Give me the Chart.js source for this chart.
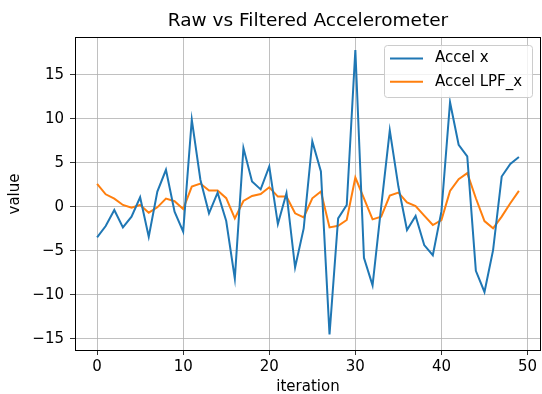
<!DOCTYPE html>
<html><head><meta charset="utf-8">
<script src="https://cdn.jsdelivr.net/npm/chart.js@4.4.0/dist/chart.umd.min.js"></script>
<style>html,body{margin:0;padding:0;background:#fff}</style>
</head><body><canvas id="c" width="542" height="394"></canvas>
<script>
const iterations = [0,1,2,3,4,5,6,7,8,9,10,11,12,13,14,15,16,17,18,19,20,21,22,23,24,25,26,27,28,29,30,31,32,33,34,35,36,37,38,39,40,41,42,43,44,45,46,47,48,49];
const accelX = [-3.46,-2.17,-0.34,-2.32,-1.1,1.1,-3.38,1.75,4.22,-0.53,
  -2.81,9.92,3.1,-0.72,1.63,-1.6,-8.14,6.69,2.89,2.0,
  4.6,-1.94,1.56,-6.88,-2.43,7.45,4.03,-14.49,-1.29,0.23,
  17.83,-5.78,-8.9,0.0,8.71,2.32,-2.62,-1.03,-4.33,-5.48,
  -0.5,11.9,7.07,5.74,-7.26,-9.66,-4.9,3.46,4.9,5.67];
const accelLPFx = [2.62,1.44,0.95,0.23,-0.08,0.23,-0.65,-0.04,0.95,0.65,
  -0.23,2.32,2.66,1.86,1.86,1.0,-1.29,0.68,1.25,1.48,
  2.24,1.18,1.18,-0.72,-1.18,0.99,1.75,-2.32,-2.13,-1.48,
  3.35,0.99,-1.41,-1.1,1.29,1.63,0.53,0.11,-0.99,-2.05,
  -1.48,1.83,3.16,3.84,0.99,-1.6,-2.43,-1.1,0.42,1.83];
const xTickValues = [0,10,20,30,40,50];
const yTickValues = [-15,-10,-5,0,5,10,15];
const seriesLabels = ['Accel x','Accel LPF_x'];
const titleText = 'Raw vs Filtered Accelerometer';
const xTitle = 'iteration';
const yTitle = 'value';

const FONT = 'DejaVu Sans';
const colors = ['#1f77b4','#ff7f0e'];

const framePlugin = {
  id: 'frame',
  afterDatasetsDraw(chart) {
    const a = chart.chartArea, ctx = chart.ctx;
    ctx.save();
    ctx.strokeStyle = '#000';
    ctx.lineWidth = 1;
    ctx.strokeRect(Math.round(a.left) - 0.5, Math.round(a.top) - 0.5, Math.round(a.right - a.left) + 1, Math.round(a.bottom - a.top) + 1);
    ctx.restore();
  }
};

const titlePlugin = {
  id: 'axesTitle',
  afterDraw(chart) {
    const a = chart.chartArea, ctx = chart.ctx;
    ctx.save();
    ctx.font = '18.5px "' + FONT + '"';
    ctx.fillStyle = '#000';
    ctx.textAlign = 'center';
    ctx.textBaseline = 'middle';
    ctx.fillText(titleText, (a.left + a.right) / 2, a.top - 16.5);
    ctx.restore();
  }
};

const legendPlugin = {
  id: 'mplLegend',
  afterDraw(chart) {
    const a = chart.chartArea, ctx = chart.ctx;
    const w = 148, h = 52;
    const x = a.right - 8 - w, y = a.top + 7;
    ctx.save();
    ctx.fillStyle = 'rgba(255,255,255,0.8)';
    ctx.strokeStyle = '#cccccc';
    ctx.lineWidth = 1;
    ctx.beginPath();
    ctx.roundRect(x + 0.5, y + 0.5, w, h, 3);
    ctx.fill();
    ctx.stroke();
    ctx.font = '15px "' + FONT + '"';
    ctx.textBaseline = 'middle';
    chart.data.datasets.forEach((ds, i) => {
      const ry = y + 13.5 + i * 23.3;
      ctx.strokeStyle = ds.borderColor;
      ctx.lineWidth = 2;
      ctx.beginPath();
      ctx.moveTo(x + 6, ry);
      ctx.lineTo(x + 39, ry);
      ctx.stroke();
      ctx.fillStyle = '#000';
      ctx.fillText(ds.label, x + 51, ry);
    });
    ctx.restore();
  }
};

const fmt = v => String(v).replace('-', '\u2212');

new Chart(document.getElementById('c'), {
  type: 'line',
  data: {
    datasets: [
      { label: seriesLabels[0], data: iterations.map((it, i) => ({x: it, y: accelX[i]})), borderColor: colors[0], backgroundColor: colors[0], borderWidth: 2, pointRadius: 0, tension: 0, fill: false },
      { label: seriesLabels[1], data: iterations.map((it, i) => ({x: it, y: accelLPFx[i]})), borderColor: colors[1], backgroundColor: colors[1], borderWidth: 2, pointRadius: 0, tension: 0, fill: false }
    ]
  },
  options: {
    responsive: false,
    animation: false,
    devicePixelRatio: 1,
    layout: { padding: { top: 38, right: 2, bottom: 0, left: 0 } },
    plugins: {
      legend: { display: false },
      tooltip: { enabled: false },
      title: { display: false }
    },
    scales: {
      x: {
        type: 'linear', min: -2.45, max: 51.45,
        afterBuildTicks: ax => { ax.ticks = xTickValues.map(v => ({value: v})); },
        afterFit: ax => { ax.height = 44; },
        grid: { color: '#b0b0b0', lineWidth: 0.8, tickLength: 5, tickColor: '#000', drawTicks: true },
        border: { display: false },
        ticks: { color: '#000', font: { family: FONT, size: 15 }, padding: 3, autoSkip: false, maxRotation: 0, callback: v => fmt(v) },
        title: { display: true, text: xTitle, color: '#000', font: { family: FONT, size: 15 }, padding: { top: 0, bottom: -2 } }
      },
      y: {
        type: 'linear', min: -16.25, max: 19.2,
        afterBuildTicks: ax => { ax.ticks = yTickValues.map(v => ({value: v})); },
        afterFit: ax => { ax.width = 76; },
        grid: { color: '#b0b0b0', lineWidth: 0.8, tickLength: 6, tickColor: '#000', drawTicks: true },
        border: { display: false },
        ticks: { color: '#000', font: { family: FONT, size: 15 }, padding: 6, autoSkip: false, callback: v => fmt(v) },
        title: { display: true, text: yTitle, color: '#000', font: { family: FONT, size: 15 }, padding: { top: 6, bottom: 0 } }
      }
    }
  },
  plugins: [framePlugin, titlePlugin, legendPlugin]
});
</script>
</body></html>
